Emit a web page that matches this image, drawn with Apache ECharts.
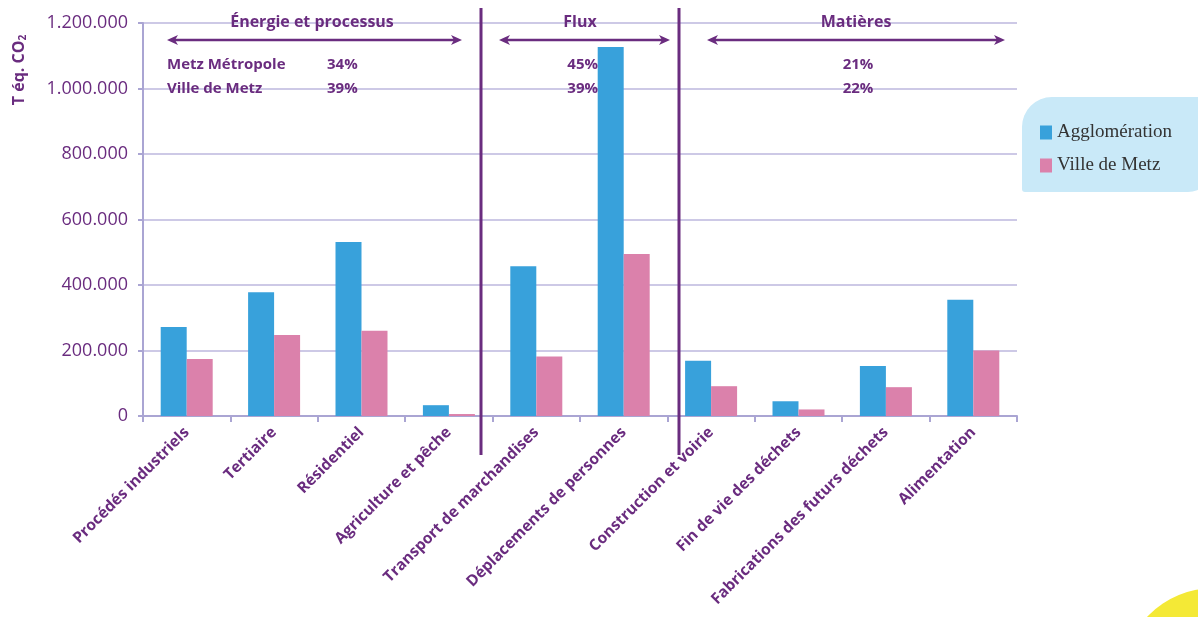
<!DOCTYPE html>
<html><head><meta charset="utf-8">
<script src="https://cdn.jsdelivr.net/npm/echarts@6/dist/echarts.min.js"></script>
<style>html,body{margin:0;padding:0;background:#fff}#c{width:1198px;height:617px}</style>
</head><body><div id="c"></div>
<script>
var categories = ["Procédés industriels","Tertiaire","Résidentiel","Agriculture et pêche","Transport de marchandises","Déplacements de personnes","Construction et voirie","Fin de vie des déchets","Fabrications des futurs déchets","Alimentation"];
var agglomeration = [272000, 378000, 531000, 33000, 457000, 1127000, 169000, 45000, 153000, 355000];
var villeDeMetz = [174000, 247000, 260000, 6000, 182000, 495000, 91000, 20000, 88000, 200000];
var yTicks = [0, 200000, 400000, 600000, 800000, 1000000, 1200000];

var PURPLE = '#6a2c7f';
var FONT = '"Open Sans", sans-serif';
var chart = echarts.init(document.getElementById('c'), null, {renderer:'canvas'});

function arrow(x1, x2, y) {
  var h = 11, w = 5;
  return [
    {type:'line', shape:{x1:x1+6, y1:y, x2:x2-6, y2:y}, style:{stroke:PURPLE, lineWidth:2.5}, z:5},
    {type:'polygon', shape:{points:[[x1,y],[x1+h,y-w],[x1+h-3,y],[x1+h,y+w]]}, style:{fill:PURPLE}, z:5},
    {type:'polygon', shape:{points:[[x2,y],[x2-h,y-w],[x2-h+3,y],[x2-h,y+w]]}, style:{fill:PURPLE}, z:5}
  ];
}
function txt(x, y, s, align, size, weight) {
  return {type:'text', x:x, y:y, z:6, style:{text:s, fill:PURPLE, align:align||'left', verticalAlign:'middle',
    font:(weight||'bold') + ' ' + (size||15) + 'px ' + FONT}};
}

var graphics = [
  {type:'rect', shape:{x:1022, y:97, width:190, height:95, r:[30,0,24,3]}, style:{fill:'#c9e9f8'}, z:0},
  {type:'circle', shape:{cx:1214, cy:680, r:92}, style:{fill:'#f4e936'}, z:0},
  {type:'line', shape:{x1:481, y1:8, x2:481, y2:455}, style:{stroke:PURPLE, lineWidth:3}, z:5},
  {type:'line', shape:{x1:679, y1:8, x2:679, y2:455}, style:{stroke:PURPLE, lineWidth:3}, z:5},
  txt(312, 22, 'Énergie et processus', 'center', 16),
  txt(580, 22, 'Flux', 'center', 16),
  txt(856, 22, 'Matières', 'center', 16),
  txt(167, 65, 'Metz Métropole'), txt(327, 65, '34%'),
  txt(167, 89, 'Ville de Metz'), txt(327, 89, '39%'),
  txt(598, 65, '45%', 'right'), txt(598, 89, '39%', 'right'),
  txt(858, 65, '21%', 'center'), txt(858, 89, '22%', 'center'),
  {type:'text', x:19, y:70, rotation:Math.PI/2, z:6, style:{
    text:'T éq. CO{s|2}', fill:PURPLE, align:'center', verticalAlign:'middle',
    font:'bold 16px ' + FONT,
    rich:{s:{fontSize:10, fontWeight:'bold', fontFamily:FONT, fill:PURPLE, padding:[9,0,0,0]}}
  }}
].concat(arrow(167, 462, 40), arrow(499, 670, 40), arrow(707, 1005, 40));

chart.setOption({
  animation:false,
  backgroundColor:'#ffffff',
  grid:{left:143, right:181, top:23, bottom:201, containLabel:false},
  legend:{orient:'vertical', left:1035, top:118, itemGap:14, itemWidth:12, itemHeight:14, icon:'rect', z:10,
    textStyle:{fontFamily:'"Liberation Serif", serif', fontSize:19, color:'#333'},
    data:['Agglomération','Ville de Metz']},
  xAxis:{type:'category', data:categories,
    axisLine:{lineStyle:{color:'#aaa5d3', width:2}},
    axisTick:{show:true, length:6, lineStyle:{color:'#aaa5d3', width:2}},
    axisLabel:{interval:0, rotate:45, margin:14, color:PURPLE, fontFamily:FONT, fontWeight:'bold', fontSize:15.5}},
  yAxis:{type:'value', min:0, max:1200000, interval:200000,
    axisLine:{show:true, lineStyle:{color:'#aaa5d3', width:2}},
    axisTick:{show:true, length:5, lineStyle:{color:'#aaa5d3', width:2}},
    splitLine:{lineStyle:{color:'#cdc9e6', width:2}},
    axisLabel:{margin:15, color:PURPLE, fontFamily:FONT, fontSize:18,
      formatter:function(v){ return yTicks.indexOf(v) < 0 ? '' : String(v).replace(/\B(?=(\d{3})+(?!\d))/g, '.'); }}},
  series:[
    {name:'Agglomération', type:'bar', data:agglomeration, barWidth:26, barGap:'0%', itemStyle:{color:'#38a1db'}},
    {name:'Ville de Metz', type:'bar', data:villeDeMetz, barWidth:26, itemStyle:{color:'#db81ab'}}
  ],
  graphic:graphics
});
</script></body></html>
